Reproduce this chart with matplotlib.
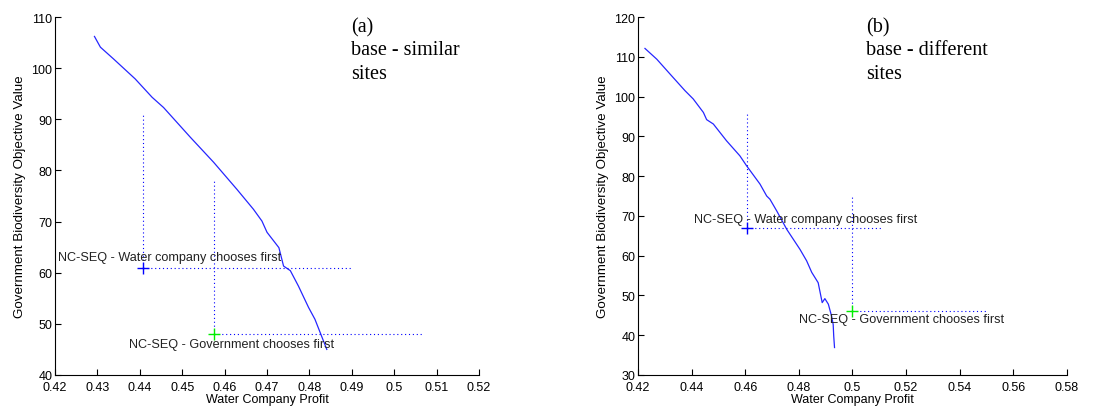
import matplotlib
matplotlib.use("Agg")
import matplotlib.pyplot as plt

# Panel (a): base - similar sites
profit_a = [0.4293, 0.4307, 0.4338, 0.4389, 0.4429, 0.4456, 0.4519, 0.4574, 0.4629,
            0.4668, 0.4688, 0.4700, 0.4728, 0.4739, 0.4755, 0.4774, 0.4798, 0.4813, 0.4841]
biodiv_a = [106.2, 104.1, 101.8, 97.9, 94.3, 92.3, 86.5, 81.6, 76.3,
            72.4, 70.1, 67.9, 64.9, 61.3, 60.4, 57.4, 53.2, 50.9, 45.0]
water_first_a = (0.4407, 61.0)
gov_first_a = (0.4574, 48.1)
water_guides_a = (90.8, 0.4902)   # top of vertical guide, right end of horizontal guide
gov_guides_a = (78.0, 0.5070)

# Panel (b): base - different sites
profit_b = [0.4226, 0.4270, 0.4319, 0.4375, 0.4406, 0.4444, 0.4456, 0.4481, 0.4530, 0.4580,
            0.4605, 0.4655, 0.4680, 0.4692, 0.4717, 0.4755, 0.4804, 0.4829, 0.4848, 0.4872,
            0.4887, 0.4897, 0.4910, 0.4922, 0.4928, 0.4930, 0.4933]
biodiv_b = [112.1, 109.4, 105.7, 101.5, 99.4, 96.0, 94.2, 93.1, 88.9, 85.1,
            82.6, 78.0, 75.0, 74.2, 71.3, 66.6, 61.6, 58.7, 55.8, 53.2,
            48.2, 49.2, 47.8, 44.8, 42.7, 39.8, 36.9]
water_first_b = (0.4607, 67.0)
gov_first_b = (0.5000, 46.0)
water_guides_b = (96.0, 0.5108)
gov_guides_b = (75.0, 0.5500)

xticks_a = [0.42, 0.43, 0.44, 0.45, 0.46, 0.47, 0.48, 0.49, 0.5, 0.51, 0.52]
yticks_a = [40, 50, 60, 70, 80, 90, 100, 110]
xticks_b = [0.42, 0.44, 0.46, 0.48, 0.5, 0.52, 0.54, 0.56, 0.58]
yticks_b = [30, 40, 50, 60, 70, 80, 90, 100, 110, 120]

plt.rcParams["font.family"] = ["Liberation Sans", "DejaVu Sans"]

BLUE = "#0000ff"
GREEN = "#00ee00"
DOT = (0, (1, 2.5))


def draw_panel(ax, profit, biodiv, wpt, gpt, wguide, gguide, xticks, yticks,
               panel_text, text_x, wlabel_pos, glabel_pos):
    ax.plot(profit, biodiv, color=BLUE, lw=0.9, alpha=0.85)

    # guide lines for the two sequential equilibria
    ax.plot([wpt[0], wpt[0]], [wpt[1], wguide[0]], color=BLUE, lw=0.8, ls=DOT)
    ax.plot([wpt[0], wguide[1]], [wpt[1], wpt[1]], color=BLUE, lw=0.8, ls=DOT)
    ax.plot([gpt[0], gpt[0]], [gpt[1], gguide[0]], color=BLUE, lw=0.8, ls=DOT)
    ax.plot([gpt[0], gguide[1]], [gpt[1], gpt[1]], color=BLUE, lw=0.8, ls=DOT)

    ax.plot(*wpt, marker="+", color=BLUE, ms=8, mew=1.0)
    ax.plot(*gpt, marker="+", color=GREEN, ms=8, mew=1.0)

    ax.text(wlabel_pos[0], wlabel_pos[1], "NC-SEQ - Water company chooses first",
            fontsize=9.1, color="#222222", va="center", ha="left")
    ax.text(glabel_pos[0], glabel_pos[1], "NC-SEQ - Government chooses first",
            fontsize=9.1, color="#222222", va="center", ha="left")

    ax.text(text_x, 1.0, panel_text, transform=ax.transAxes, va="top", ha="left",
            fontsize=14.5, family="Liberation Serif", linespacing=1.3)

    ax.set_xlim(xticks[0], xticks[-1])
    ax.set_ylim(yticks[0], yticks[-1])
    ax.set_xticks(xticks)
    ax.set_xticklabels([f"{t:g}" for t in xticks])
    ax.set_yticks(yticks)
    ax.tick_params(direction="in", length=4, labelsize=9)
    ax.tick_params(axis="x", pad=4)
    ax.tick_params(axis="y", pad=2)
    for side in ["top", "right"]:
        ax.spines[side].set_visible(False)
    ax.set_xlabel("Water Company Profit", fontsize=9, labelpad=0)
    ax.set_ylabel("Government Biodiversity Objective Value", fontsize=9.6, labelpad=4)


fig = plt.figure(figsize=(11.14, 4.14), dpi=100)
ax_a = fig.add_axes([0.0494, 0.0918, 0.3806, 0.8647])
ax_b = fig.add_axes([0.5727, 0.0918, 0.3851, 0.8647])

draw_panel(ax_a, profit_a, biodiv_a, water_first_a, gov_first_a, water_guides_a, gov_guides_a,
           xticks_a, yticks_a, "(a)\nbase - similar\nsites", 0.698,
           (0.4206, 63.0), (0.4374, 46.1))
draw_panel(ax_b, profit_b, biodiv_b, water_first_b, gov_first_b, water_guides_b, gov_guides_b,
           xticks_b, yticks_b, "(b)\nbase - different\nsites", 0.532,
           (0.4410, 69.2), (0.4800, 44.2))

fig.savefig("out.png", dpi=100)
